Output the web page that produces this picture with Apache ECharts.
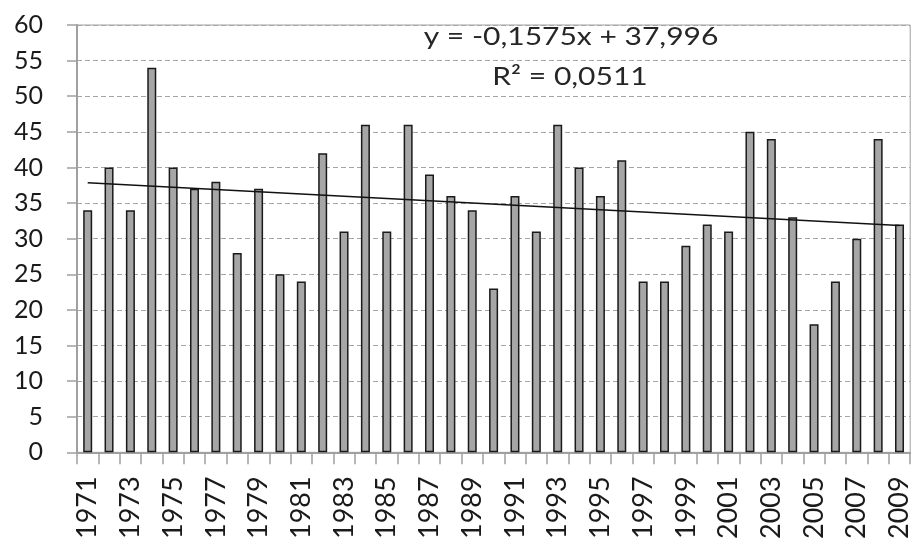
<!DOCTYPE html>
<html>
<head>
<meta charset="utf-8">
<script src="https://cdn.jsdelivr.net/npm/echarts@6/dist/echarts.min.js"></script>
<style>
html,body{margin:0;padding:0;background:#fff;}
#chart{width:913px;height:542px;}
</style>
</head>
<body>
<div id="chart"></div>
<script>
const years = ['1971','1972','1973','1974','1975','1976','1977','1978','1979','1980','1981','1982','1983','1984','1985','1986','1987','1988','1989','1990','1991','1992','1993','1994','1995','1996','1997','1998','1999','2000','2001','2002','2003','2004','2005','2006','2007','2008','2009'];
const values = [34,40,34,54,40,37,38,28,37,25,24,42,31,46,31,46,39,36,34,23,36,31,46,40,36,41,24,24,29,32,31,45,44,33,18,24,30,44,32];
const trendStart = 37.84;   // trend line value at 1971
const trendEnd = 31.85;     // trend line value at 2009
const equationText = 'y = -0,1575x + 37,996';
const r2Text = 'R² = 0,0511';

const FONT = 'Lato';
const chart = echarts.init(document.getElementById('chart'), null, {renderer:'canvas'});
chart.setOption({
  animation:false,
  backgroundColor:'#fff',
  grid:{left:77,right:2,top:25,bottom:89,show:true,borderColor:'#a0a0a0',borderWidth:1,backgroundColor:'transparent'},
  xAxis:{
    type:'category',
    data:years,
    boundaryGap:true,
    axisLine:{lineStyle:{color:'#a0a0a0',width:2}},
    axisTick:{show:true,interval:0,length:12,lineStyle:{color:'#a0a0a0',width:1.5}},
    axisLabel:{interval:1,rotate:90,margin:24,color:'#1a1a1a',fontFamily:FONT,fontSize:27}
  },
  yAxis:{
    type:'value',min:0,max:60,interval:5,
    axisLine:{show:true,lineStyle:{color:'#a0a0a0',width:2}},
    axisTick:{show:true,length:10,lineStyle:{color:'#a0a0a0',width:1.5}},
    axisLabel:{margin:34,color:'#1a1a1a',fontFamily:FONT,fontSize:25},
    splitLine:{show:true,lineStyle:{color:'#a6a6a6',type:[5,3],width:1}}
  },
  series:[{
    type:'bar',
    data:values,
    barWidth:9,
    itemStyle:{color:'#a6a6a6',borderColor:'#1a1a1a',borderWidth:1.5},
    markLine:{
      silent:true,symbol:['none','none'],label:{show:false},
      lineStyle:{color:'#111',width:1.5,type:'solid'},
      data:[[{coord:[years[0],trendStart]},{coord:[years[years.length-1],trendEnd]}]]
    }
  }],
  graphic:[
    {type:'text',x:571,y:37,scaleX:1.2,style:{text:equationText,fill:'#262626',font:'25px '+FONT,textAlign:'center',textVerticalAlign:'middle'}},
    {type:'text',x:570,y:77,scaleX:1.2,style:{text:r2Text,fill:'#262626',font:'25px '+FONT,textAlign:'center',textVerticalAlign:'middle'}}
  ]
});
</script>
</body>
</html>
